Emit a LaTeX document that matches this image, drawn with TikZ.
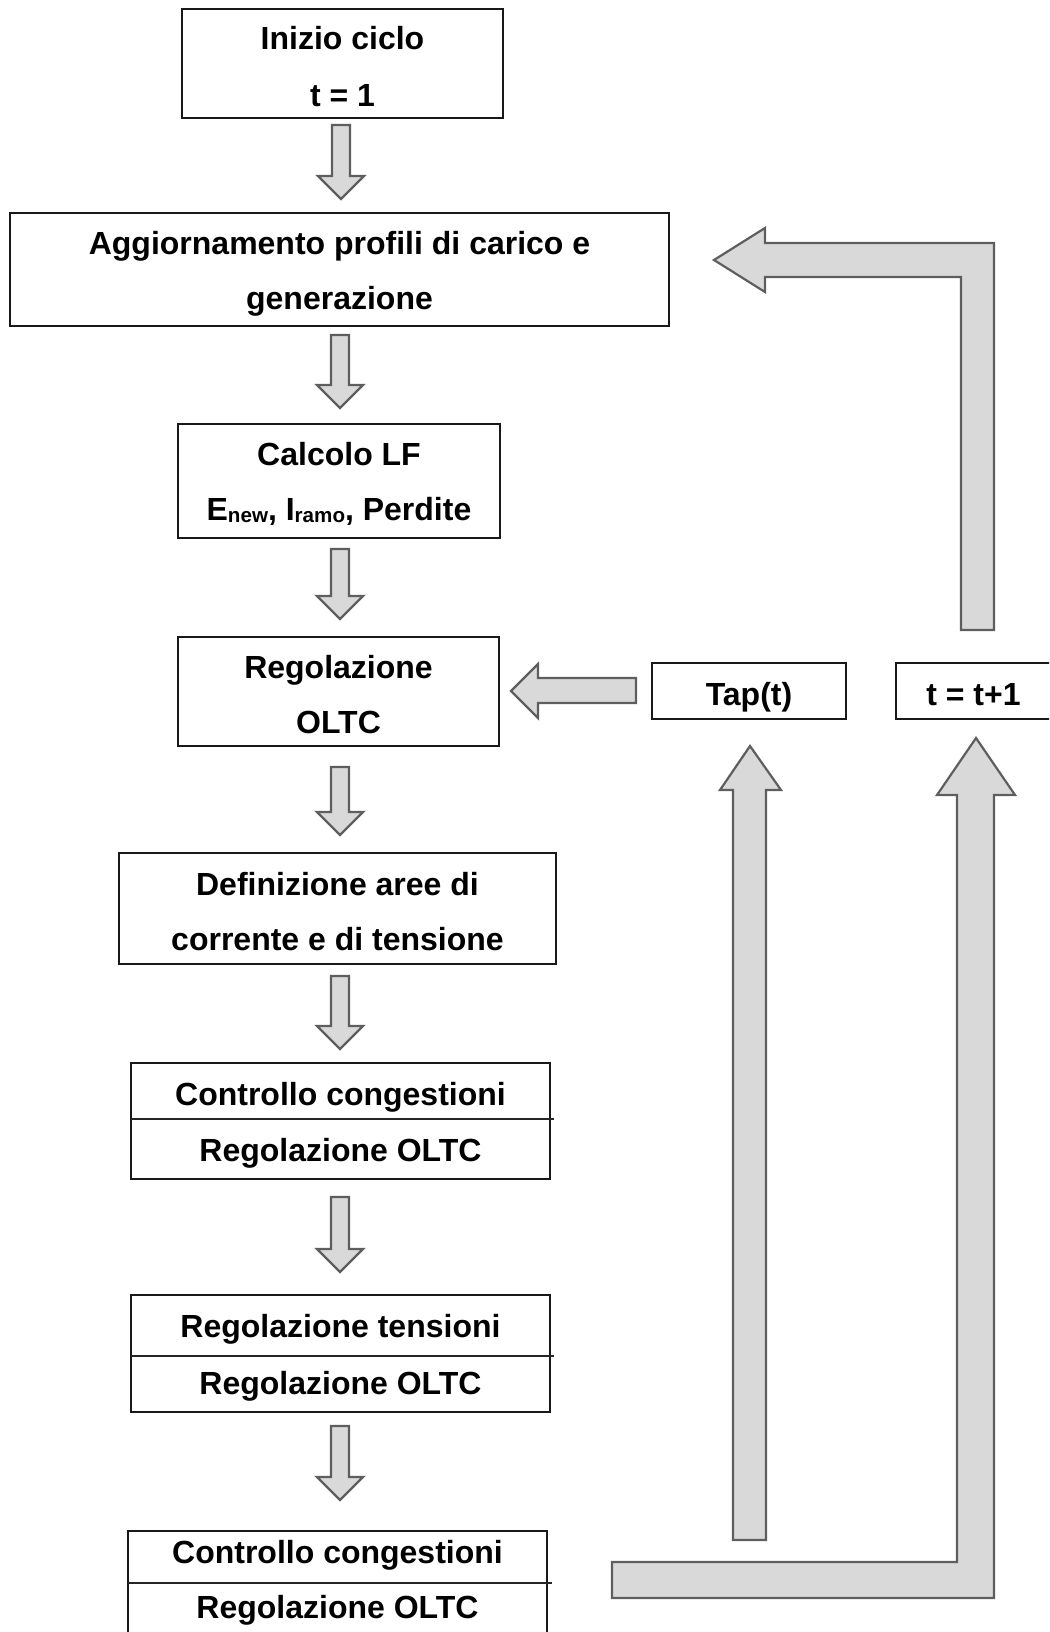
\documentclass[tikz,border=0pt]{standalone}
\usepackage{fontspec}
\setmainfont{Liberation Sans}
\definecolor{arrfill}{HTML}{D9D9D9}
\definecolor{arrline}{HTML}{5E5E5E}
\newcommand\SubTxt[1]{{\fontsize{10.3pt}{11pt}\selectfont\raisebox{-1pt}{#1}}}
\newcommand\DnArrow[3]{%
  \draw[blk] ({#1-9},#2) -- ({#1+9},#2) -- ({#1+9},{#3-23}) -- ({#1+23},{#3-23})
    -- (#1,#3) -- ({#1-23},{#3-23}) -- ({#1-9},{#3-23}) -- cycle;}
\begin{document}
\begin{tikzpicture}[x=0.5pt,y=-0.5pt,
  box/.style={draw=black!90, line width=1pt, fill=white, inner sep=0pt, outer sep=0pt},
  txt/.style={font=\fontsize{16pt}{19pt}\selectfont\bfseries, anchor=base, inner sep=0pt},
  blk/.style={fill=arrfill, draw=arrline, line width=1.1pt, line join=miter},
  divline/.style={draw=black!85, line width=0.6pt}]
\useasboundingbox (0,0) rectangle (1049,1632);
\clip (0,0) rectangle (1049,1632);
% boxes
\node[box, minimum width=160.5pt, minimum height=54.5pt] (b1) at (342.5,63.5) {};
\node[box, minimum width=329.5pt, minimum height=56.5pt] (b2) at (339.5,269.5) {};
\node[box, minimum width=161pt, minimum height=57pt] (b3) at (339,481) {};
\node[box, minimum width=160.5pt, minimum height=54.5pt] (b4) at (338.5,691.5) {};
\node[box, minimum width=218.5pt, minimum height=55.5pt] (b5) at (337.5,908.5) {};
\node[box, minimum width=209.5pt, minimum height=58pt] (b6) at (340.5,1121) {};
\node[box, minimum width=209.5pt, minimum height=58.5pt] (b7) at (340.5,1353.5) {};
\node[box, minimum width=209.5pt, minimum height=80pt] (b8) at (337.5,1611) {};
\node[box, minimum width=97pt, minimum height=28pt] (tap) at (749,691) {};
\node[box, minimum width=77.5pt, minimum height=28pt] (tinc) at (973.5,691) {};
% dividers
\draw[divline] (131,1119) -- (554,1119);
\draw[divline] (131,1356) -- (554,1356);
\draw[divline] (128,1583) -- (552,1583);
% texts
\node[txt] (t1a) at (342.5,50) {Inizio ciclo};
\node[txt] (t1b) at (342.5,106) {t = 1};
\node[txt] (t2a) at (339.5,254) {Aggiornamento profili di carico e};
\node[txt] (t2b) at (339.5,309) {generazione};
\node[txt] (t3a) at (339,465) {Calcolo LF};
\node[txt] (t3b) at (339,520) {E\SubTxt{new}, I\SubTxt{ramo}, Perdite};
\node[txt] (t4a) at (338.5,678) {Regolazione};
\node[txt] (t4b) at (338.5,733) {OLTC};
\node[txt] (t5a) at (337.5,895) {Definizione aree di};
\node[txt] (t5b) at (337.5,950) {corrente e di tensione};
\node[txt] (t6a) at (340.5,1105) {Controllo congestioni};
\node[txt] (t6b) at (340.5,1161) {Regolazione OLTC};
\node[txt] (t7a) at (340.5,1337) {Regolazione tensioni};
\node[txt] (t7b) at (340.5,1394) {Regolazione OLTC};
\node[txt] (t8a) at (337.5,1563) {Controllo congestioni};
\node[txt] (t8b) at (337.5,1618) {Regolazione OLTC};
\node[txt] (ttap) at (749,705) {Tap(t)};
\node[txt] (tinct) at (973.5,705) {t = t+1};
% down arrows
\DnArrow{341}{125}{199}
\DnArrow{340}{335}{408}
\DnArrow{340}{549}{619}
\DnArrow{340}{767}{835}
\DnArrow{340}{976}{1049}
\DnArrow{340}{1197}{1272}
\DnArrow{340}{1426}{1500}
% left arrow Tap -> Regolazione
\draw[blk] (636,678) -- (538,678) -- (538,664) -- (511,691) -- (538,718) -- (538,703) -- (636,703) -- cycle;
% up arrow to Tap
\draw[blk] (733,1540) -- (733,790) -- (720,790) -- (750,746) -- (781,790) -- (766,790) -- (766,1540) -- cycle;
% bottom L arrow to t=t+1
\draw[blk] (612,1562) -- (957,1562) -- (957,795) -- (937,795) -- (976,738) -- (1015,795)
  -- (994,795) -- (994,1598) -- (612,1598) -- cycle;
% top L arrow to Aggiornamento
\draw[blk] (994,630) -- (994,243) -- (765,243) -- (765,228) -- (714,260) -- (765,292)
  -- (765,277) -- (961,277) -- (961,630) -- cycle;
\end{tikzpicture}
\end{document}
